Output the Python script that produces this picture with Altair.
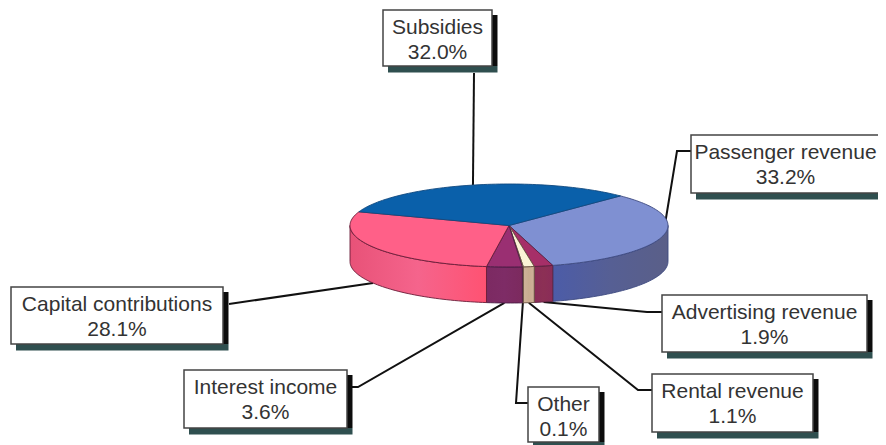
import math
import altair as alt
import pandas as pd

# chart data, clockwise from the top-right boundary of the pie
categories = ["Passenger revenue", "Advertising revenue", "Rental revenue", "Other",
              "Interest income", "Capital contributions", "Subsidies"]
values = [33.2, 1.9, 1.1, 0.1, 3.6, 28.1, 32.0]

# styles per category
top_colors = ["#7f90d2", "#a62f68", "#fbf3d6", "#fbf3d6", "#9a2f72", "#ff6088", "#0a60aa"]
wall_stops = [["#4c5ca8", "#565f94", "#5a5f88"],
              ["#8a2c58", "#8c3055", "#8a2c58"],
              ["#cfb39a", "#c9ac90", "#cfb39a"],
              ["#cfb39a", "#c9ac90", "#cfb39a"],
              ["#7c2a62", "#7e2c66", "#7c2a5e"],
              ["#e85278", "#f5648c", "#ff5272"],
              ["#0a60aa", "#0a60aa", "#0a60aa"]]
edge_colors = ["#3d4a80", "#5a2040", "#6a5040", "#6a5040", "#4a1c44", "#6a1c38", "#114a80"]

# layout of the pie in picture pixels
CX, CY, RX, RY, DEPTH = 509, 225.5, 159, 41.5, 36
START = -45.5

# label boxes: left, right, top, bottom
boxes = {
    "Subsidies": (383, 492, 10, 66),
    "Passenger revenue": (691, 880, 135, 193),
    "Capital contributions": (11, 223, 287, 344),
    "Interest income": (184, 347, 370, 428),
    "Advertising revenue": (662, 867, 295, 352),
    "Rental revenue": (652, 813, 374, 432),
    "Other": (528, 599, 387, 442),
}
# elbow of each leader line, next to its box
elbows = {
    "Subsidies": [(474, 73)],
    "Passenger revenue": [(691, 151), (677, 151)],
    "Capital contributions": [(229, 304)],
    "Interest income": [(352, 387), (358, 387)],
    "Advertising revenue": [(662, 312), (647, 312)],
    "Rental revenue": [(652, 390), (638, 390)],
    "Other": [(528, 403), (516, 403)],
}

xs = alt.Scale(domain=[8, 878], nice=False, zero=False)
ys = alt.Scale(domain=[445, 8], nice=False, zero=False)
X = alt.X("x:Q", scale=xs, axis=None)
Y = alt.Y("y:Q", scale=ys, axis=None)


def ell(t, dy=0.0):
    r = math.radians(t)
    return CX + RX * math.cos(r), CY + RY * math.sin(r) + dy


def arc(a, b, dy=0.0):
    n = max(2, int(abs(b - a) / 1.5) + 2)
    return [ell(a + (b - a) * i / (n - 1), dy) for i in range(n)]


def polygon(points, fill, stroke, width=0.9):
    df = pd.DataFrame({"x": [p[0] for p in points], "y": [p[1] for p in points],
                       "i": list(range(len(points)))})
    return alt.Chart(df).mark_line(fill=fill, stroke=stroke, strokeWidth=width,
                                   interpolate="linear-closed").encode(
        x=X, y=Y, order=alt.Order("i:Q"))


layers = []

# leader lines, under the pie
spans = []
a = START
for v in values:
    spans.append((a, a + v * 3.6))
    a += v * 3.6

for cat, (a, b) in zip(categories, spans):
    mid = (a + b) / 2
    front = math.sin(math.radians(mid)) > 0.5
    end = ell(mid, DEPTH if front else 0)
    pts = elbows[cat] + [end]
    df = pd.DataFrame({"x": [p[0] for p in pts], "y": [p[1] for p in pts], "i": range(len(pts))})
    layers.append(alt.Chart(df).mark_line(color="#111111", strokeWidth=2).encode(
        x=X, y=Y, order=alt.Order("i:Q")))

# side walls
for (a, b), stops, edge in zip(spans, wall_stops, edge_colors):
    lo, hi = max(a, 0), min(b, 180)
    if hi <= lo:
        continue
    pts = arc(lo, hi) + arc(hi, lo, DEPTH)
    grad = alt.LinearGradient(
        gradient="linear", x1=0, x2=1, y1=0, y2=0,
        stops=[alt.GradientStop(color=stops[0], offset=0),
               alt.GradientStop(color=stops[1], offset=0.5),
               alt.GradientStop(color=stops[2], offset=1)])
    layers.append(polygon(pts, grad, edge))

# top faces
for (a, b), col, edge in zip(spans, top_colors, edge_colors):
    pts = [(CX, CY)] + arc(a, b)
    layers.append(polygon(pts, col, edge))

# label boxes
rows = []
for cat, v in zip(categories, values):
    l, r, t, bt = boxes[cat]
    rows.append({"cat": cat, "pct": f"{v:.1f}%", "l": l, "r": r, "t": t, "b": bt,
                 "c": (l + r) / 2, "y1": t + 17.5, "y2": t + 42.5,
                 "sr": r + 5.5, "st": t + 5, "sb": bt + 6.5, "sl": l + 5})
tbl = pd.DataFrame(rows)
base = alt.Chart(tbl)

layers.append(base.mark_rect(fill="#2f4f4f").encode(
    x=alt.X("sl:Q", scale=xs, axis=None), x2="sr:Q",
    y=alt.Y("b:Q", scale=ys, axis=None), y2="sb:Q"))
layers.append(base.mark_rect(fill="#0c0c0c").encode(
    x=alt.X("r:Q", scale=xs, axis=None), x2="sr:Q",
    y=alt.Y("st:Q", scale=ys, axis=None), y2="b:Q"))
layers.append(base.mark_rect(fill="#ffffff", stroke="#444444", strokeWidth=1.5).encode(
    x=alt.X("l:Q", scale=xs, axis=None), x2="r:Q",
    y=alt.Y("t:Q", scale=ys, axis=None), y2="b:Q"))

FONT = "Liberation Sans"
layers.append(base.mark_text(font=FONT, fontSize=21, color="#333333", baseline="middle", align="center").encode(
    x=alt.X("c:Q", scale=xs, axis=None), y=alt.Y("y1:Q", scale=ys, axis=None), text="cat:N"))
layers.append(base.mark_text(font=FONT, fontSize=21, color="#333333", baseline="middle", align="center").encode(
    x=alt.X("c:Q", scale=xs, axis=None), y=alt.Y("y2:Q", scale=ys, axis=None), text="pct:N"))

chart = alt.layer(*layers).properties(
    width=870, height=437, padding=0, autosize=alt.AutoSizeParams(type="none"),
    background="#ffffff",
).configure_view(stroke=None)

chart.save("out.html", embed_options={"renderer": "svg", "actions": False})
